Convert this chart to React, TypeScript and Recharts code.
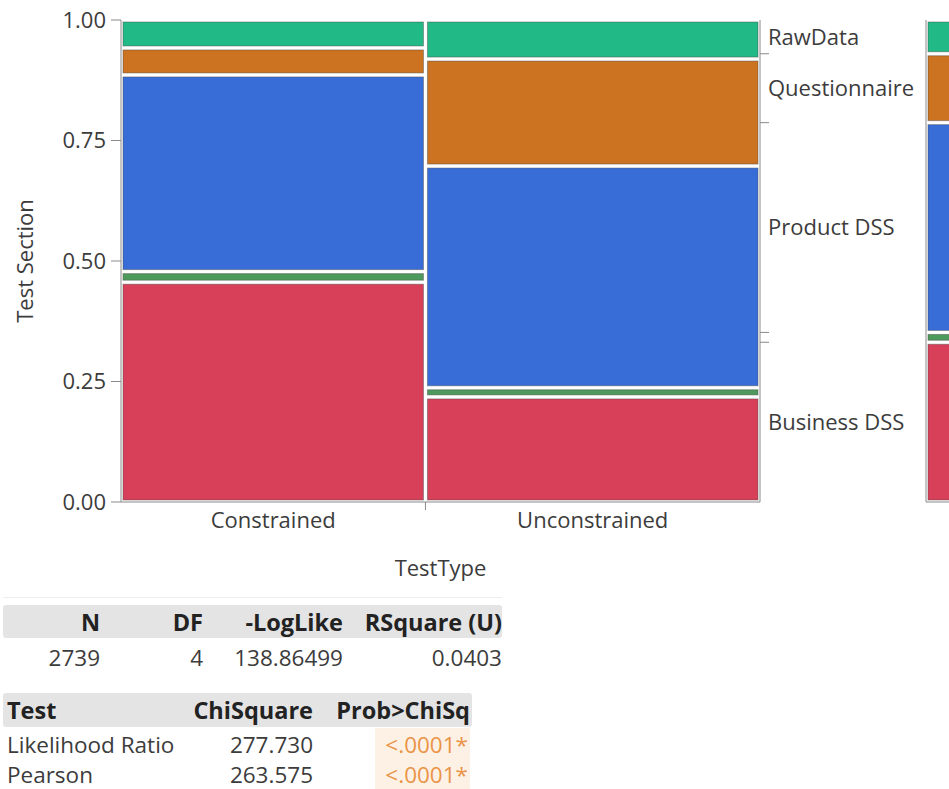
import { ComposedChart, XAxis, YAxis, ReferenceArea, Scatter } from 'recharts';

const FONT = '"Open Sans", sans-serif';
const AXIS_GRAY = '#8a8a8a';
const TEXT = '#3c3c3c';

// TestType levels and their counts (column widths of the mosaic)
const testTypes = ['Constrained', 'Unconstrained'];
const testTypeCounts = [1305, 1434];

// Test Section levels, bottom to top
const sections = ['Business DSS', 'Other', 'Product DSS', 'Questionnaire', 'RawData'];
const sectionColors = ['#d8405a', '#4d9a5c', '#386dd8', '#cb7320', '#21b986'];
const sectionLabelled = [true, false, true, true, true];

// share of each section within a test type
const constrainedShare = [0.456, 0.022, 0.408, 0.056, 0.058];
const unconstrainedShare = [0.218, 0.019, 0.46, 0.222, 0.081];

const yTicks = [0, 0.25, 0.5, 0.75, 1];

// fit summary and tests
const fitHeaders = ['N', 'DF', '-LogLike', 'RSquare (U)'];
const fitValues = ['2739', '4', '138.86499', '0.0403'];
const testHeaders = ['Test', 'ChiSquare', 'Prob>ChiSq'];
const testNames = ['Likelihood Ratio', 'Pearson'];
const chiSquare = ['277.730', '263.575'];
const probChiSq = ['<.0001*', '<.0001*'];

const total = testTypeCounts.reduce((a, b) => a + b, 0);
const shares = [constrainedShare, unconstrainedShare];

let xAcc = 0;
const columns = testTypes.map((name, i) => {
  const x1 = xAcc;
  xAcc += testTypeCounts[i] / total;
  return { name, x1, x2: xAcc, mid: (x1 + xAcc) / 2 };
});

const cells = columns.flatMap((col, i) => {
  let acc = 0;
  return shares[i].map((s, k) => {
    const y1 = acc;
    acc += s;
    return {
      key: `${col.name}-${sections[k]}`,
      x1: col.x1,
      x2: col.x2,
      y1,
      y2: acc,
      cx: col.mid,
      cy: (y1 + acc) / 2,
      fill: sectionColors[k],
    };
  });
});

// marginal distribution of Test Section over both test types
const marginal = sections.map((_, k) =>
  columns.reduce((sum, col, i) => sum + (col.x2 - col.x1) * shares[i][k], 0)
);
let mAcc = 0;
const marginalCells = marginal.map((m, k) => {
  const y1 = mAcc;
  mAcc += m;
  return { key: sections[k], y1, y2: mAcc, cx: 0.5, cy: (y1 + mAcc) / 2, fill: sectionColors[k] };
});
const sectionCenters = marginalCells
  .map((c, k) => ({ value: c.cy, label: sections[k], show: sectionLabelled[k] }))
  .filter((c) => c.show);
const sectionBounds = marginalCells.slice(0, -1).map((c) => c.y2);

const divider = columns[0].x2;

function MosaicCell(props: any) {
  const { x, y, width, height, fill } = props;
  return (
    <rect
      x={x + 2}
      y={y + 2}
      width={Math.max(width - 4, 0)}
      height={Math.max(height - 4, 0)}
      fill={fill}
      stroke="#4a4a4a"
      strokeOpacity={0.45}
    />
  );
}

// cell centres only anchor the axes; the cells themselves are reference areas
const NoMark = () => <g />;

function TypeTick(props: any) {
  const { x, y, payload } = props;
  const col = columns.find((c) => Math.abs(c.mid - payload.value) < 1e-9);
  if (!col) return <line x1={x} x2={x} y1={y} y2={y + 8} stroke={AXIS_GRAY} />;
  return (
    <text x={x} y={y + 26} textAnchor="middle" fill={TEXT} fontSize={22} fontFamily={FONT}>
      {col.name}
    </text>
  );
}

function SectionTick(props: any) {
  const { x, y, payload } = props;
  const c = sectionCenters.find((s) => Math.abs(s.value - payload.value) < 1e-9);
  if (!c) return <line x1={x} x2={x + 9} y1={y} y2={y} stroke={AXIS_GRAY} />;
  return (
    <text x={x + 8} y={y} dy="0.35em" fill={TEXT} fontSize={22} fontFamily={FONT}>
      {c.label}
    </text>
  );
}

const cellText = {
  position: 'absolute' as const,
  fontFamily: FONT,
  fontSize: 22.5,
  lineHeight: '28px',
  color: TEXT,
  whiteSpace: 'nowrap' as const,
};
const headText = { fontWeight: 700, color: '#222', fontSize: 23.5 };

function RightCell({ right, cy, children, style }: any) {
  return (
    <div style={{ ...cellText, left: right - 250, width: 250, top: cy - 14, textAlign: 'right', ...style }}>{children}</div>
  );
}

export default function App() {
  const fitRight = [100, 203, 343, 502];
  const testRight = [0, 313, 470];
  return (
    <div style={{ position: 'fixed', left: 0, top: 0, width: 949, height: 789, overflow: 'hidden', background: '#fff' }}>
      <div style={{ position: 'absolute', left: 8, top: 0 }}>
        <ComposedChart width={915} height={588} data={cells} margin={{ top: 20, right: 0, bottom: 0, left: 0 }}>
          <XAxis
            type="number"
            dataKey="cx"
            domain={[0, 1]}
            ticks={[columns[0].mid, divider, columns[1].mid]}
            interval={0}
            tickLine={false}
            tickSize={0}
            tickMargin={0}
            tick={<TypeTick />}
            axisLine={{ stroke: AXIS_GRAY }}
            height={86}
            label={{ value: 'TestType', position: 'insideBottom', offset: 12, fill: TEXT, fontSize: 22, fontFamily: FONT }}
          />
          <YAxis
            yAxisId="left"
            type="number"
            dataKey="cy"
            domain={[0, 1]}
            ticks={yTicks}
            interval={0}
            tickFormatter={(v: number) => v.toFixed(2)}
            tick={{ fill: TEXT, fontSize: 22, fontFamily: FONT }}
            tickSize={10}
            tickMargin={5}
            tickLine={{ stroke: AXIS_GRAY }}
            axisLine={{ stroke: AXIS_GRAY }}
            width={113}
            label={{
              value: 'Test Section',
              angle: -90,
              position: 'insideLeft',
              offset: 17,
              fill: TEXT,
              fontSize: 22,
              fontFamily: FONT,
              style: { textAnchor: 'middle' },
            }}
          />
          <YAxis
            yAxisId="right"
            orientation="right"
            type="number"
            dataKey="cy"
            domain={[0, 1]}
            ticks={[...sectionBounds, ...sectionCenters.map((c) => c.value)]}
            interval={0}
            tickLine={false}
            tickSize={0}
            tickMargin={0}
            tick={<SectionTick />}
            axisLine={{ stroke: AXIS_GRAY }}
            width={163}
          />
          <Scatter yAxisId="left" dataKey="cy" shape={<NoMark />} isAnimationActive={false} />
          <Scatter yAxisId="right" data={marginalCells} dataKey="cy" shape={<NoMark />} isAnimationActive={false} />
          {cells.map((c) => (
            <ReferenceArea
              key={c.key}
              yAxisId="left"
              x1={c.x1}
              x2={c.x2}
              y1={c.y1}
              y2={c.y2}
              fill={c.fill}
              fillOpacity={1}
              ifOverflow="visible"
              shape={<MosaicCell />}
            />
          ))}
        </ComposedChart>
      </div>

      <div style={{ position: 'absolute', left: 924, top: 20 }}>
        <ComposedChart width={45} height={483} data={marginalCells} margin={{ top: 0, right: 0, bottom: 0, left: 0 }}>
          <XAxis type="number" dataKey="cx" domain={[0, 1]} tick={false} tickLine={false} axisLine={{ stroke: AXIS_GRAY }} height={1} />
          <YAxis type="number" dataKey="cy" domain={[0, 1]} tick={false} tickLine={false} axisLine={{ stroke: AXIS_GRAY }} width={2} />
          <Scatter dataKey="cy" shape={<NoMark />} isAnimationActive={false} />
          {marginalCells.map((c) => (
            <ReferenceArea
              key={c.key}
              x1={0}
              x2={1}
              y1={c.y1}
              y2={c.y2}
              fill={c.fill}
              fillOpacity={1}
              ifOverflow="visible"
              shape={<MosaicCell />}
            />
          ))}
        </ComposedChart>
      </div>

      {/* fit summary */}
      <div style={{ position: 'absolute', left: 3, top: 597, width: 499, height: 1, background: '#eeeeee' }} />
      <div style={{ position: 'absolute', left: 3, top: 605, width: 499, height: 33, background: '#e4e4e4', borderRadius: 3 }} />
      {fitHeaders.map((h, i) => (
        <RightCell key={h} right={fitRight[i]} cy={622} style={headText}>
          {h}
        </RightCell>
      ))}
      {fitValues.map((v, i) => (
        <RightCell key={i} right={fitRight[i]} cy={658}>
          {v}
        </RightCell>
      ))}

      {/* tests */}
      <div style={{ position: 'absolute', left: 3, top: 693, width: 469, height: 34, background: '#e4e4e4', borderRadius: 3 }} />
      <div style={{ position: 'absolute', left: 375, top: 728, width: 95, height: 61, background: '#fdf1e6' }} />
      <div style={{ ...cellText, ...headText, left: 7, top: 696 }}>{testHeaders[0]}</div>
      {testHeaders.slice(1).map((h, i) => (
        <RightCell key={h} right={testRight[i + 1]} cy={710} style={headText}>
          {h}
        </RightCell>
      ))}
      {testNames.map((name, r) => (
        <div key={name}>
          <div style={{ ...cellText, left: 7, top: 745 + r * 30 - 14 }}>{name}</div>
          <RightCell right={313} cy={745 + r * 30}>
            {chiSquare[r]}
          </RightCell>
          <RightCell right={468} cy={745 + r * 30} style={{ color: '#ea9448' }}>
            {probChiSq[r]}
          </RightCell>
        </div>
      ))}
    </div>
  );
}
